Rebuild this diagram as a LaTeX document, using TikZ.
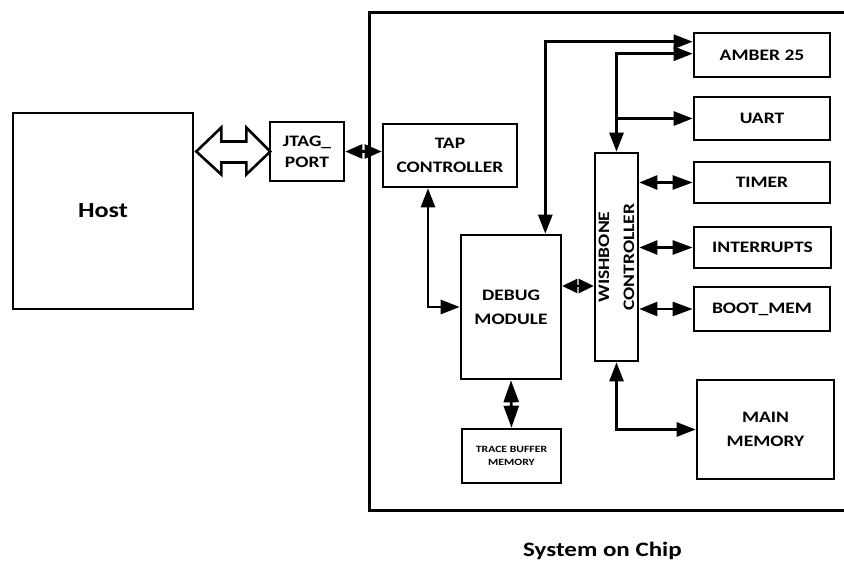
\documentclass[tikz,border=0pt]{standalone}
\usepackage{fontspec}
\setmainfont{Carlito}[FakeStretch=1.22]
\usetikzlibrary{arrows.meta,calc}
\tikzset{
  blk/.style={draw, line width=2.6pt, inner sep=0pt, align=center,
    font=\fontsize{16}{24}\selectfont\bfseries},
  conn/.style={line width=2.6pt},
  tp/.tip={Triangle[length=19pt,width=14pt]},
  sp/.tip={Triangle[length=16pt,width=14pt]},
}
\begin{document}
\begin{tikzpicture}[x=1pt,y=-1pt]
\useasboundingbox (0,0) rectangle (844,562);
% system on chip container
\node[draw, line width=2.6pt, minimum width=490pt, minimum height=498pt, anchor=north west, inner sep=0pt] (soc) at (368,11) {};
\node[font=\fontsize{20.5}{24}\selectfont\bfseries, anchor=base] (soclbl) at (602.5,556) {System on Chip};
% blocks
\node[blk, minimum width=180pt, minimum height=196pt, font=\fontsize{21.5}{26}\selectfont\bfseries] (host) at (103,211) {Host};
\node[blk, minimum width=74pt, minimum height=59pt, font=\fontsize{16}{21}\selectfont\bfseries] (jtag) at (307,151.5) {JTAG\_\\PORT};
\node[blk, minimum width=134pt, minimum height=63pt] (tap) at (450,155.5) {TAP\\CONTROLLER};
\node[blk, minimum width=100pt, minimum height=144pt] (debug) at (511,307) {DEBUG\\MODULE};
\node[blk, minimum width=99pt, minimum height=54pt, font=\fontsize{9.6}{13}\selectfont\bfseries] (trace) at (511.5,456) {TRACE BUFFER\\MEMORY};
\node[blk, minimum width=43pt, minimum height=208pt] (wb) at (616.5,257) {};
\node[rotate=90, align=center, inner sep=0pt, font=\fontsize{16}{25}\selectfont\bfseries] (wblbl) at (wb.center) {WISHBONE\\CONTROLLER};
\node[blk, minimum width=136pt, minimum height=44pt] (amber) at (762,55) {AMBER 25};
\node[blk, minimum width=136pt, minimum height=43pt] (uart) at (762,118.5) {UART};
\node[blk, minimum width=136pt, minimum height=41pt] (timer) at (762,182.5) {TIMER};
\node[blk, minimum width=137pt, minimum height=41pt] (intr) at (762.5,247.5) {INTERRUPTS};
\node[blk, minimum width=136pt, minimum height=44pt] (boot) at (762,309) {BOOT\_MEM};
\node[blk, minimum width=137pt, minimum height=99pt] (main) at (765.5,429.5) {MAIN\\MEMORY};
% hollow double arrow host <-> jtag
\draw[conn, line join=miter] ([xshift=2pt]host.east |- jtag.west) -- ++(25,-24) -- ++(0,14) -- ++(25,0) -- ++(0,-14) -- ++(24,24) -- ++(-24,23) -- ++(0,-12) -- ++(-25,0) -- ++(0,12) -- cycle;
% connectors
\draw[conn, {Triangle[length=17pt,width=14pt]}-{Triangle[length=17pt,width=14pt]}] (jtag.east) -- (jtag.east -| tap.west);
\draw[conn, tp-tp] ([xshift=-22pt]tap.south) |- (debug.west);
\draw[conn, tp-tp] ([xshift=-17pt]debug.north east) |- ([yshift=-10pt]amber.north west);
\draw[conn, tp-tp] (wb.north) |- ([yshift=-22pt]amber.north west);
\draw[conn, -tp] (wb.north |- uart.west) -- (uart.west);
\draw[conn, {Triangle[length=15pt,width=14pt]}-{Triangle[length=15pt,width=14pt]}] ([yshift=21pt]debug.east) -- ([yshift=21pt]debug.east -| wb.west);
\draw[conn, {Triangle[length=18pt,width=14pt]}-{Triangle[length=20pt,width=14pt]}] (timer.west -| wb.east) -- (timer.west);
\draw[conn, {Triangle[length=18pt,width=14pt]}-{Triangle[length=20pt,width=14pt]}] (intr.west -| wb.east) -- (intr.west);
\draw[conn, {Triangle[length=18pt,width=14pt]}-{Triangle[length=20pt,width=14pt]}] (boot.west -| wb.east) -- (boot.west);
\draw[conn, tp-tp] (wb.south) |- (main.west);
\draw[conn, {Triangle[length=22pt,width=15pt]}-{Triangle[length=22pt,width=15pt]}] (debug.south) -- (trace.north);
\end{tikzpicture}
\end{document}
